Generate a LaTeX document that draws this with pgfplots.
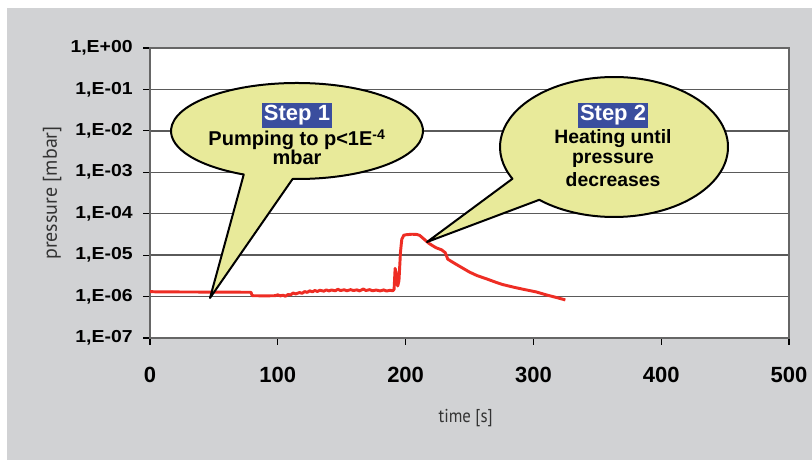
\documentclass[border=0pt]{standalone}
\usepackage{pgfplots}
\pgfplotsset{compat=1.18}
\usepackage{fontspec}
\setmainfont{Liberation Sans}
\newfontfamily\ytickfont[FakeStretch=1.12]{Liberation Sans}
\newfontfamily\labelfont{PT Sans}
\newfontfamily\xlabelfont[FakeStretch=0.9]{PT Sans}
\definecolor{bg}{RGB}{209,210,212}
\definecolor{curve}{RGB}{238,45,36}
\definecolor{bubble}{RGB}{232,234,154}
\definecolor{stepblue}{RGB}{58,78,158}
\definecolor{gridc}{RGB}{90,90,90}
\begin{document}
\begin{tikzpicture}[x=0.75pt,y=0.75pt]
\path[use as bounding box] (0,0) rectangle (812,460);
\fill[white] (0,0) rectangle (812,460);
\fill[bg] (7,0) rectangle (812,452);
\begin{axis}[
  at={(112.5pt,91.5pt)}, anchor=south west,
  scale only axis, width=479.25pt, height=217.5pt,
  xmin=0, xmax=500, ymode=log, ymin=1e-7, ymax=1,
  xtick={0,100,200,300,400,500},
  xticklabels={0,100,200,300,400,500},
  ytick={1e-7,1e-6,1e-5,1e-4,1e-3,1e-2,1e-1,1},
  yticklabels={{1,E-07},{1,E-06},{1,E-05},{1,E-04},{1,E-03},{1,E-02},{1,E-01},{1,E+00}},
  yminorticks=false,
  ymajorgrids,
  major grid style={gridc, line width=1pt},
  tick align=outside, major tick length=5pt,
  tick style={black, line width=0.8pt},
  xtick pos=bottom, ytick pos=left,
  axis line style={draw=black!60, line width=0.8pt},
  axis background/.style={fill=white},
  yticklabel style={font=\ytickfont\bfseries\fontsize{13}{13}\selectfont, anchor=east, xshift=-4.5pt},
  xticklabel style={font=\bfseries\fontsize{16.5}{16.5}\selectfont, yshift=-13.5pt},
  xlabel={time [s]}, ylabel={pressure [mbar]},
  label style={text=black!80},
  xlabel style={font=\xlabelfont\fontsize{14}{14}\selectfont, at={(axis description cs:0.494,-0.276)}, anchor=center},
  ylabel style={font=\labelfont\fontsize{15}{15}\selectfont, at={(axis description cs:-0.153,0.5)}, anchor=center},
]
\addplot[curve, line width=2.2pt, line join=round] coordinates {
(0,1.32e-6) (5,1.30e-6) (15,1.30e-6) (25,1.29e-6) (35,1.29e-6) (45,1.28e-6)
(55,1.28e-6) (65,1.28e-6) (75,1.27e-6) (79,1.27e-6) (80,1.05e-6) (90,1.04e-6)
(98,1.05e-6) (100,1.10e-6) (102,1.04e-6) (104,1.08e-6) (106,1.02e-6) (108,1.12e-6)
(110,1.10e-6) (112,1.22e-6) (114,1.16e-6) (117,1.25e-6) (119,1.20e-6) (121,1.32e-6)
(123,1.26e-6) (125,1.38e-6) (127,1.30e-6) (129,1.40e-6) (131,1.33e-6) (133,1.42e-6)
(136,1.35e-6) (138,1.45e-6) (140,1.37e-6) (142,1.44e-6) (145,1.38e-6) (147,1.50e-6)
(149,1.40e-6) (152,1.46e-6) (154,1.38e-6) (157,1.47e-6) (159,1.40e-6) (162,1.45e-6)
(164,1.37e-6) (167,1.52e-6) (169,1.40e-6) (172,1.47e-6) (174,1.38e-6) (177,1.44e-6)
(180,1.37e-6) (183,1.45e-6) (185,1.36e-6) (188,1.42e-6) (190,1.38e-6) (191,1.5e-6)
(191.8,4.8e-6) (193,3.2e-6) (193.8,1.8e-6) (194.8,2.4e-6) (196,1.2e-5) (197,2.4e-5)
(198.5,3.0e-5) (200,3.1e-5) (205,3.2e-5) (209,3.15e-5) (211,3.0e-5) (214,2.5e-5)
(218,1.95e-5) (221,1.7e-5) (224,1.5e-5) (228,1.35e-5) (231,1.15e-5) (233,8.0e-6)
(236,7.0e-6) (240,5.9e-6) (245,4.8e-6) (250,3.9e-6) (256,3.2e-6) (263,2.7e-6)
(270,2.25e-6) (276,1.95e-6) (284,1.7e-6) (292,1.5e-6) (302,1.3e-6) (310,1.1e-6)
(318,9.5e-7) (325,8.3e-7)
};
\end{axis}
% Step 1 callout
\filldraw[fill=bubble, draw=black, line width=1.5pt, line join=round]
  (297,329) ++(268:126 and 48) arc[start angle=268, end angle=605, x radius=126, y radius=48]
  -- (210,162) -- cycle;
\node[fill=stepblue, text=white, font=\bfseries\fontsize{16.5}{16.5}\selectfont, inner xsep=1.5pt, inner ysep=1.7pt, anchor=base] at (297,339) {Step 1};
\node[font=\bfseries\fontsize{15}{15}\selectfont, anchor=base, inner sep=0pt] at (297,314) {Pumping to p<1E\textsuperscript{-4}};
\node[font=\bfseries\fontsize{15}{15}\selectfont, anchor=base, inner sep=0pt] at (297,295) {mbar};
% Step 2 callout
\filldraw[fill=bubble, draw=black, line width=1.5pt, line join=round]
  (614,313) ++(229:114 and 70) arc[start angle=229, end angle=567, x radius=114, y radius=70]
  -- (427,218) -- cycle;
\node[fill=stepblue, text=white, font=\bfseries\fontsize{16.5}{16.5}\selectfont, inner xsep=1.5pt, inner ysep=1.7pt, anchor=base] at (613,339) {Step 2};
\node[font=\bfseries\fontsize{14.5}{14.5}\selectfont, anchor=base, inner sep=0pt] at (613,316) {Heating until};
\node[font=\bfseries\fontsize{14.5}{14.5}\selectfont, anchor=base, inner sep=0pt] at (613,296) {pressure};
\node[font=\bfseries\fontsize{14.5}{14.5}\selectfont, anchor=base, inner sep=0pt] at (613,273) {decreases};
\end{tikzpicture}
\end{document}
